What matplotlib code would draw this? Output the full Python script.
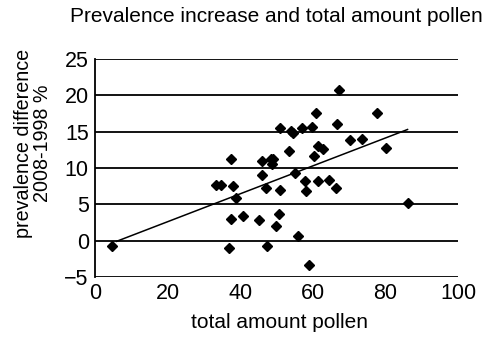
import matplotlib
matplotlib.use("Agg")
import matplotlib.pyplot as plt

plt.rcParams['font.family'] = ['Liberation Sans', 'DejaVu Sans']

pollen = [4.7, 33.2, 34.8, 37.6, 37.9, 38.9, 37.6, 40.8, 36.8, 45.2, 45.9, 46.1,
          47.1, 47.3, 48.4, 48.8, 48.9, 50.9, 50.7, 49.9, 51.0, 53.5, 53.9, 54.6,
          55.8, 58.9, 55.1, 57.0, 59.9, 61.0, 60.2, 61.3, 62.7, 57.9, 58.1, 61.4,
          64.5, 66.5, 66.6, 67.3, 70.3, 73.6, 77.6, 80.2, 86.3]
prev_diff = [-0.7, 7.7, 7.7, 11.2, 7.5, 5.9, 3.0, 3.4, -1.0, 2.8, 9.0, 10.9,
             7.3, -0.8, 11.3, 10.6, 11.2, 7.0, 3.7, 2.0, 15.5, 12.3, 15.1, 14.8,
             0.6, -3.4, 9.3, 15.5, 15.6, 17.6, 11.6, 13.0, 12.6, 8.2, 6.9, 8.2,
             8.4, 7.2, 16.1, 20.7, 13.9, 14.0, 17.6, 12.8, 5.2]
trend_x = [5.9, 86.1]
trend_y = [-0.1, 15.3]
x_ticks = [0, 20, 40, 60, 80, 100]
y_ticks = [-5, 0, 5, 10, 15, 20, 25]

W, H = 486, 338
fig = plt.figure(figsize=(W / 100, H / 100), dpi=100)
ax = fig.add_axes([95/W, 1-277/H, (458-95)/W, (277-59)/H])

for yv in y_ticks:
    ax.axhline(yv, color='black', lw=1.3, zorder=1)

ax.plot(trend_x, trend_y, color='black', lw=1.1, zorder=2)
ax.plot(pollen, prev_diff, linestyle='none', marker='D', markersize=5,
        color='black', zorder=3)

ax.set_xlim(0, 100)
ax.set_ylim(-5, 25)
ax.set_xticks(x_ticks)
ax.set_yticks(y_ticks)
ax.set_yticklabels(['\u22125' if v == -5 else str(v) for v in y_ticks])
ax.tick_params(axis='both', length=0, labelsize=15.5, pad=4.5)
ax.tick_params(axis='y', pad=4.5)

for s in ['top', 'right', 'bottom']:
    ax.spines[s].set_visible(False)
ax.spines['left'].set_linewidth(1.3)

fig.text(276/W, 1-17/H, 'Prevalence increase and total amount pollen',
         fontsize=15, ha='center', va='center')
fig.text(279/W, 1-323/H, 'total amount pollen', fontsize=15,
         ha='center', va='center')
fig.text(33/W, 1-143/H, 'prevalence difference\n2008-1998 %', fontsize=14.2,
         ha='center', va='center', rotation=90, linespacing=1.0,
         multialignment='center')

fig.savefig('out.png', dpi=100)
